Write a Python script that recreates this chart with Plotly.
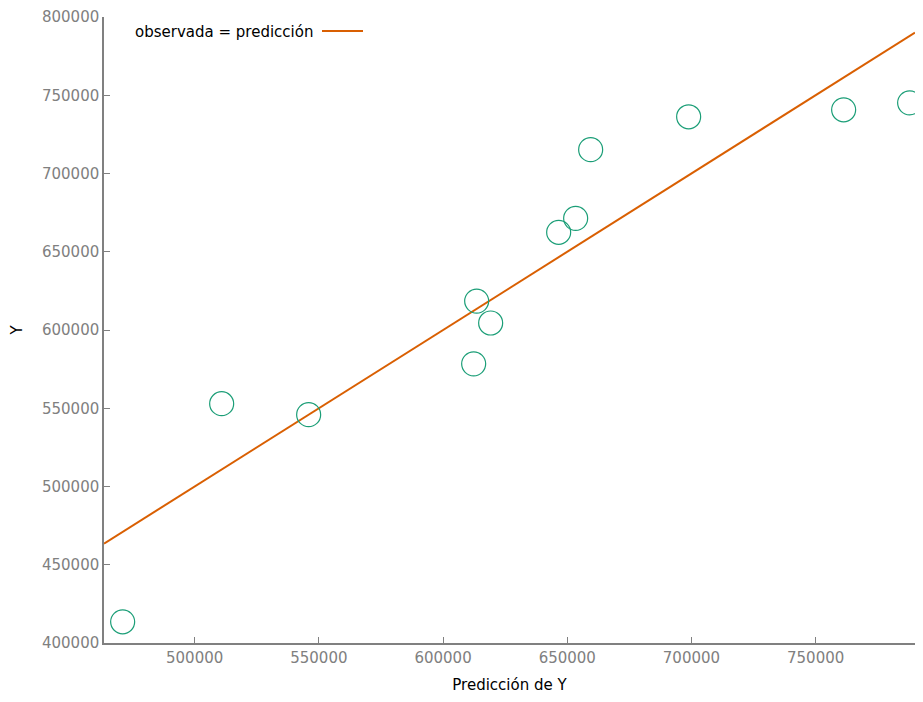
import plotly.graph_objects as go

# Data
pred_y = [471010, 510870, 545890, 612320, 613530, 619160, 646540, 653380, 659420, 698870, 761270, 787840]
obs_y = [413550, 552910, 545910, 578360, 618460, 604460, 662420, 671330, 715240, 736240, 740700, 745160]

x_range = [463500, 790000]
y_range = [400000, 800000]
x_ticks = [500000, 550000, 600000, 650000, 700000, 750000]
y_ticks = [400000, 450000, 500000, 550000, 600000, 650000, 700000, 750000, 800000]

GREEN = "#1b9e77"
ORANGE = "#d95f02"
GREY = "#808080"
FONT = "DejaVu Sans"

# page body has an 8px margin; size the figure so the page fits the window exactly
W, H = 907, 686
ML, MT, MB, MR = 96, 7, 51, 0
PW, PH = W - ML - MR, H - MT - MB

fig = go.Figure()

fig.add_trace(go.Scatter(
    x=x_range, y=x_range, mode="lines",
    line=dict(color=ORANGE, width=2),
    showlegend=False, hoverinfo="skip",
))

fig.add_trace(go.Scatter(
    x=pred_y, y=obs_y, mode="markers",
    marker=dict(symbol="circle-open", size=24, color=GREEN, line=dict(width=1.2, color=GREEN)),
    showlegend=False,
))

fig.update_layout(
    width=W, height=H,
    margin=dict(l=ML, r=MR, t=MT, b=MB),
    paper_bgcolor="white", plot_bgcolor="white",
    font=dict(family=FONT, size=15, color="black"),
    xaxis=dict(
        range=x_range, tickvals=x_ticks, ticktext=[str(v) for v in x_ticks],
        showgrid=False, zeroline=False, showline=True, linecolor=GREY, linewidth=1.5,
        ticks="inside", ticklen=6, tickcolor=GREY, tickfont=dict(color=GREY, size=15, family=FONT),
        ticklabeloverflow="allow",
        title=dict(text="Predicción de Y", font=dict(size=15, color="black", family=FONT), standoff=17),
    ),
    yaxis=dict(
        range=y_range, tickvals=y_ticks, ticktext=[str(v) for v in y_ticks],
        showgrid=False, zeroline=False, showline=True, linecolor=GREY, linewidth=1.5,
        ticks="inside", ticklen=6, tickcolor=GREY, tickfont=dict(color=GREY, size=15, family=FONT),
        ticklabeloverflow="allow",
        title=dict(text="Y", font=dict(size=15, color="black", family=FONT), standoff=20),
    ),
)

# Key (gnuplot-style: text left of line sample)
fig.add_annotation(
    xref="paper", yref="paper", x=(133 - 104) / PW, y=(643 - 30) / PH,
    text="observada = predicción", showarrow=False, xanchor="left", yanchor="middle",
    font=dict(size=15, color="black", family=FONT),
)
fig.add_shape(
    type="line", xref="paper", yref="paper",
    x0=(322 - 104) / PW, x1=(363 - 104) / PW, y0=(643 - 29) / PH, y1=(643 - 29) / PH,
    line=dict(color=ORANGE, width=2),
)

fig.write_html("out.html")
